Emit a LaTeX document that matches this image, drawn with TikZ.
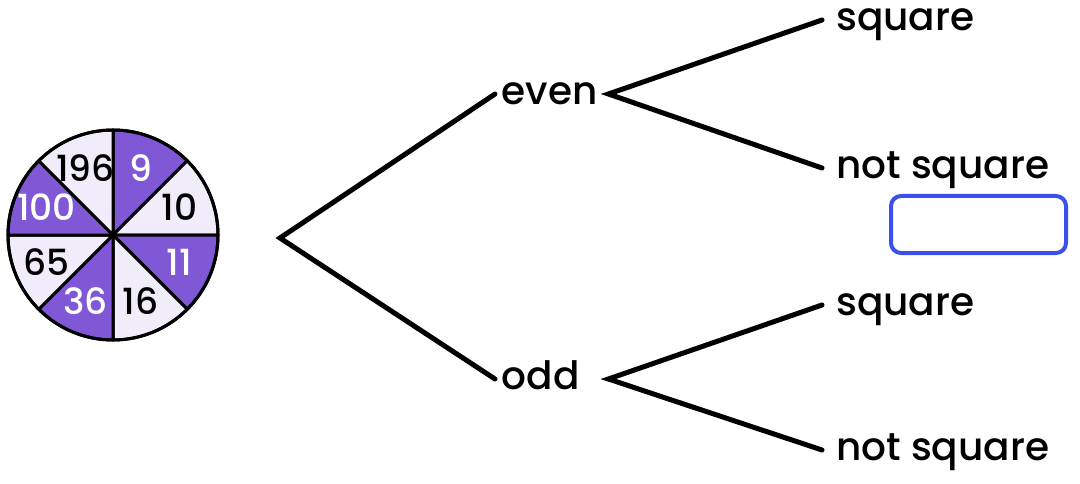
\documentclass[tikz,border=0pt]{standalone}
\usepackage{fontspec}
\setmainfont{Poppins Medium}
\definecolor{spinPurple}{RGB}{128,88,214}
\definecolor{spinLight}{RGB}{240,236,250}
\definecolor{boxBlue}{RGB}{59,80,232}
\begin{document}
\begin{tikzpicture}[
  x=1pt, y=1pt,
  branch/.style={line width=5pt, line cap=round},
  mid/.style={anchor=west, font=\fontsize{39}{41}\selectfont, text height=21pt, text depth=0pt, inner xsep=6.5pt, text width=100pt, align=left},
  leaf/.style={anchor=west, font=\fontsize{39}{41}\selectfont, text height=21pt, text depth=0pt, inner xsep=14pt},
  sector/.style={draw=black, line width=3pt, line join=round},
  num/.style={font=\fontsize{36}{38}\selectfont, inner sep=0pt},
  answer/.style={draw=boxBlue, line width=4pt, rounded corners=10pt, minimum width=175pt, minimum height=57pt}
]
\useasboundingbox (0,0) rectangle (1080,483);

% spinner
\coordinate (c) at (113,248);
\foreach \a/\n/\f/\t in {45/9/spinPurple/white, 0/10/spinLight/black, -45/11/spinPurple/white, -90/16/spinLight/black, -135/36/spinPurple/white, 180/65/spinLight/black, 135/100/spinPurple/white, 90/196/spinLight/black}{
  \filldraw[sector, fill=\f, shift={(c)}] (0,0) -- (\a:105pt) arc[start angle=\a, end angle=\a+45, radius=105pt] -- cycle;
  \node[num, text=\t] (n\n) at ([shift={(\a+22.5:72pt)}]c) {\n};
}
\draw[line width=3pt] (c) circle[radius=105pt];

% tree
\coordinate (root) at (280,245);
\node[mid] (even) at (495,389) {even};
\node[mid] (odd) at (495,104) {odd};
\node[leaf] (sqA) at (822,463) {square};
\node[leaf] (nsqA) at (822,315) {not square};
\node[leaf] (sqB) at (822,178) {square};
\node[leaf] (nsqB) at (822,33) {not square};

\draw[branch] (even.west) -- (root) -- (odd.west);
\draw[branch] (sqA.west) -- (even.east) -- (nsqA.west);
\draw[branch] (sqB.west) -- (odd.east) -- (nsqB.west);

% answer box
\node[answer] (ans) at (978.5,258.5) {};

\end{tikzpicture}
\end{document}
